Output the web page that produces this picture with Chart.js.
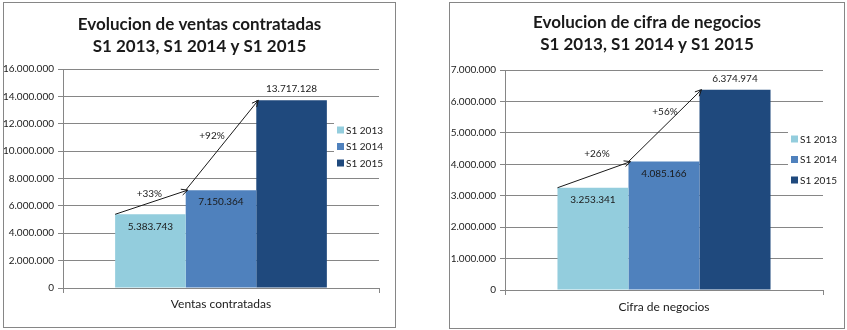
<!DOCTYPE html>
<html>
<head>
<meta charset="utf-8">
<script src="https://cdn.jsdelivr.net/npm/chart.js@4.4.0/dist/chart.umd.min.js"></script>
<style>
body { margin: 0; background: #fff; width: 847px; height: 330px; position: relative; overflow: hidden; }
.box { position: absolute; border: 1px solid #868686; background: #fff; }
.box canvas { display: block; }
</style>
</head>
<body>
<div class="box" style="left:3px;top:2px;width:391px;height:324px;"><canvas id="chart1" width="391" height="324"></canvas></div>
<div class="box" style="left:449px;top:2px;width:394px;height:325px;"><canvas id="chart2" width="394" height="325"></canvas></div>
<script>
// series and values
var series = ['S1 2013', 'S1 2014', 'S1 2015'];
var colors = ['#93CDDD', '#4F81BD', '#1F497D'];

var ventasCategory = ['Ventas contratadas'];
var ventasValues = [5383743, 7150364, 13717128];
var ventasGrowth = ['+33%', '+92%'];
var ventasTicks = [0, 16000000, 2000000]; // min, max, step

var cifraCategory = ['Cifra de negocios'];
var cifraValues = [3253341, 4085166, 6374974];
var cifraGrowth = ['+26%', '+56%'];
var cifraTicks = [0, 7000000, 1000000];

var textColor = '#1a1a1a';
var gridColor = '#868686';

function fmt(v) {
    return String(v).replace(/\B(?=(\d{3})+(?!\d))/g, '.');
}

// value labels: inside the bar top, last one above
var barValues = {
    id: 'barValues',
    afterDatasetsDraw: function(chart) {
        var ctx = chart.ctx;
        var last = chart.data.datasets.length - 1;
        ctx.save();
        ctx.font = '10px Lato';
        ctx.fillStyle = textColor;
        ctx.textAlign = 'center';
        ctx.textBaseline = 'middle';
        chart.data.datasets.forEach(function(ds, i) {
            var bar = chart.getDatasetMeta(i).data[0];
            var y = i === last ? bar.y - 11 : bar.y + 12;
            ctx.fillText(fmt(ds.data[0]), bar.x, y);
        });
        ctx.restore();
    }
};

// arrows from one bar top to the next with the growth text
function growthArrows(labels, offsets) {
    return {
        id: 'growthArrows',
        afterDatasetsDraw: function(chart) {
            var ctx = chart.ctx;
            var bars = chart.data.datasets.map(function(ds, i) { return chart.getDatasetMeta(i).data[0]; });
            ctx.save();
            ctx.strokeStyle = textColor;
            ctx.lineWidth = 1;
            ctx.font = '10px Lato';
            ctx.fillStyle = textColor;
            ctx.textAlign = 'center';
            ctx.textBaseline = 'middle';
            for (var i = 0; i < bars.length - 1; i++) {
                var x1 = bars[i].x - bars[i].width / 2, y1 = bars[i].y;
                var x2 = bars[i + 1].x - bars[i + 1].width / 2 + 2, y2 = bars[i + 1].y;
                var a = Math.atan2(y2 - y1, x2 - x1);
                ctx.beginPath();
                ctx.moveTo(x1, y1);
                ctx.lineTo(x2, y2);
                ctx.moveTo(x2 - 7 * Math.cos(a - 0.45), y2 - 7 * Math.sin(a - 0.45));
                ctx.lineTo(x2, y2);
                ctx.lineTo(x2 - 7 * Math.cos(a + 0.45), y2 - 7 * Math.sin(a + 0.45));
                ctx.stroke();
                ctx.fillText(labels[i], (x1 + x2) / 2 + offsets[i][0], (y1 + y2) / 2 + offsets[i][1]);
            }
            ctx.restore();
        }
    };
}

// Excel-like legend sitting on the plot area
function boxLegend(fromRight, top, step) {
    return {
        id: 'boxLegend',
        afterDraw: function(chart) {
            var ctx = chart.ctx;
            var x = chart.chartArea.right - fromRight;
            var n = chart.data.datasets.length;
            ctx.save();
            ctx.fillStyle = '#fff';
            ctx.fillRect(x - 3, top - 9, 60, (n - 1) * step + 18);
            ctx.font = '10px Lato';
            ctx.textBaseline = 'middle';
            chart.data.datasets.forEach(function(ds, i) {
                var y = top + i * step;
                ctx.fillStyle = ds.backgroundColor;
                ctx.fillRect(x, y - 3.5, 7, 7);
                ctx.fillStyle = textColor;
                ctx.fillText(ds.label, x + 9, y + 0.5);
            });
            ctx.restore();
        }
    };
}

function makeChart(id, title, category, values, ticks, lay, plugins) {
    var ctx = document.getElementById(id).getContext('2d');
    return new Chart(ctx, {
        type: 'bar',
        data: {
            labels: category,
            datasets: series.map(function(s, i) {
                return { label: s, data: [values[i]], backgroundColor: colors[i] };
            })
        },
        options: {
            responsive: false,
            animation: false,
            layout: { padding: 0 },
            datasets: { bar: { categoryPercentage: 0.67, barPercentage: 1 } },
            plugins: {
                legend: { display: false },
                tooltip: { enabled: false },
                title: {
                    display: true,
                    text: title,
                    color: textColor,
                    font: { family: 'Lato', size: 17, weight: 'bold', lineHeight: '22px' },
                    padding: { top: lay.titleTop, bottom: lay.titleBottom }
                }
            },
            scales: {
                x: {
                    grid: { drawOnChartArea: false, tickLength: 5, color: gridColor, offset: true },
                    border: { color: gridColor },
                    ticks: { color: textColor, font: { family: 'Lato', size: 12 }, padding: lay.xPad },
                    afterFit: function(s) { s.height = lay.xHeight; }
                },
                y: {
                    min: ticks[0],
                    max: ticks[1],
                    ticks: {
                        stepSize: ticks[2],
                        color: '#222',
                        font: { family: 'Lato', size: 10 },
                        padding: 4,
                        callback: function(v) { return fmt(v); }
                    },
                    grid: { color: gridColor, tickLength: 5 },
                    border: { color: gridColor },
                    afterFit: function(s) { s.width = lay.yWidth; }
                },
                // empty right margin so the plot ends where Excel's does
                yRight: {
                    position: 'right',
                    grid: { display: false },
                    border: { display: false },
                    ticks: { display: false },
                    afterFit: function(s) { s.width = lay.rightGap; }
                }
            }
        },
        plugins: plugins
    });
}

makeChart('chart1', ['Evolucion de ventas contratadas', 'S1 2013, S1 2014 y S1 2015'],
    ventasCategory, ventasValues, ventasTicks,
    { yWidth: 59, rightGap: 16, titleTop: 11, titleBottom: 11, xHeight: 39, xPad: 4 },
    [barValues, growthArrows(ventasGrowth, [[-2, -8], [-10, -9]]), boxLegend(42, 127, 16.5)]);

makeChart('chart2', ['Evolucion de cifra de negocios', 'S1 2013, S1 2014 y S1 2015'],
    cifraCategory, cifraValues, cifraTicks,
    { yWidth: 55, rightGap: 21, titleTop: 9, titleBottom: 14, xHeight: 38, xPad: 5 },
    [barValues, growthArrows(cifraGrowth, [[3, -21], [0, -14]]), boxLegend(32, 136, 20.5)]);
</script>
</body>
</html>
